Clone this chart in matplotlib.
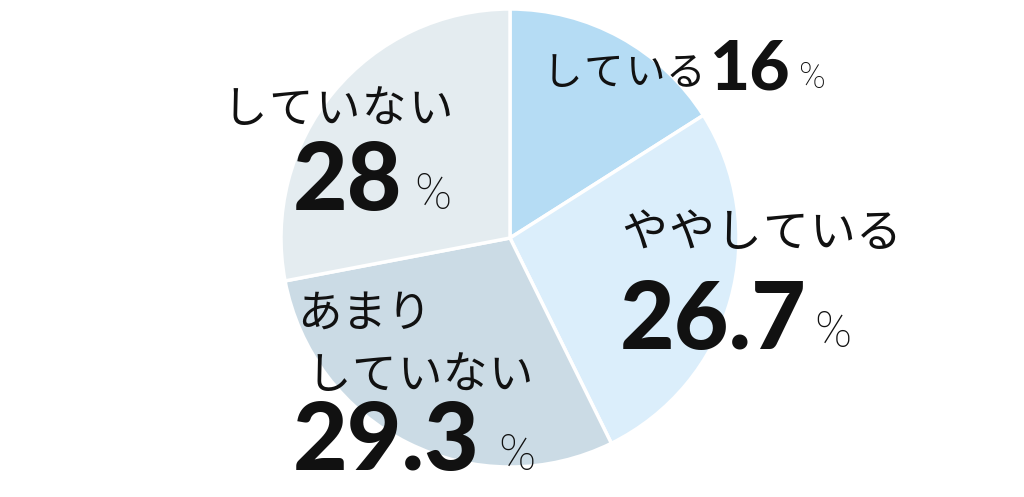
import matplotlib
matplotlib.use('Agg')
import matplotlib.pyplot as plt

# Survey answers (share in %)
labels = ['している', 'ややしている', 'あまり\nしていない', 'していない']
values = [16, 26.7, 29.3, 28]
value_text = ['16', '26.7', '29.3', '28']
colors = ['#b5dcf4', '#dbeefb', '#cbdbe5', '#e4ecf0']

W, H = 1024, 497
fig = plt.figure(figsize=(W / 100, H / 100), dpi=100)
ax = fig.add_axes([0, 0, 1, 1])

ax.pie(values, colors=colors, startangle=90, counterclock=False,
       center=(510, H - 238), radius=229,
       wedgeprops=dict(edgecolor='white', linewidth=2.5))

# pie() resets the limits, so set the pixel frame afterwards
ax.set_xlim(0, W)
ax.set_ylim(0, H)
ax.set_aspect('equal')
ax.axis('off')

jp = dict(family=['Noto Sans CJK JP', 'DejaVu Sans'], weight='normal', color='#111111')
num = dict(family=['Lato', 'DejaVu Sans'], weight='black', color='#111111')
pct = dict(family=['Roboto', 'DejaVu Sans'], weight='light', color='#111111')


def put(x, y, s, size, style):
    ax.text(x, H - y, s, fontsize=size, ha='left', va='baseline', **style)


def put_kana(x, y, s, size, step):
    # kana with a bit of tracking, one glyph at a time
    for i, ch in enumerate(s):
        put(x + i * step, y, ch, size, jp)


# している 16%
put_kana(543, 85, labels[0], 28.5, 41)
put(710, 90, value_text[0], 50, num)
put(799, 88, '%', 26, pct)

# ややしている 26.7%
put_kana(621, 247, labels[1], 33, 47)
put(620, 349, value_text[1], 68, num)
put(814, 347, '%', 36, pct)

# あまりしていない 29.3%
put_kana(297, 327, 'あまり', 32, 45)
put_kana(306, 389, 'していない', 32, 45.5)
put(293, 470, value_text[2], 68, num)
put(498, 470, '%', 36, pct)

# していない 28%
put_kana(222, 123, labels[3], 32, 46.5)
put(293, 210, value_text[3], 68, num)
put(414, 209, '%', 36, pct)

fig.savefig('out.png', dpi=100)
